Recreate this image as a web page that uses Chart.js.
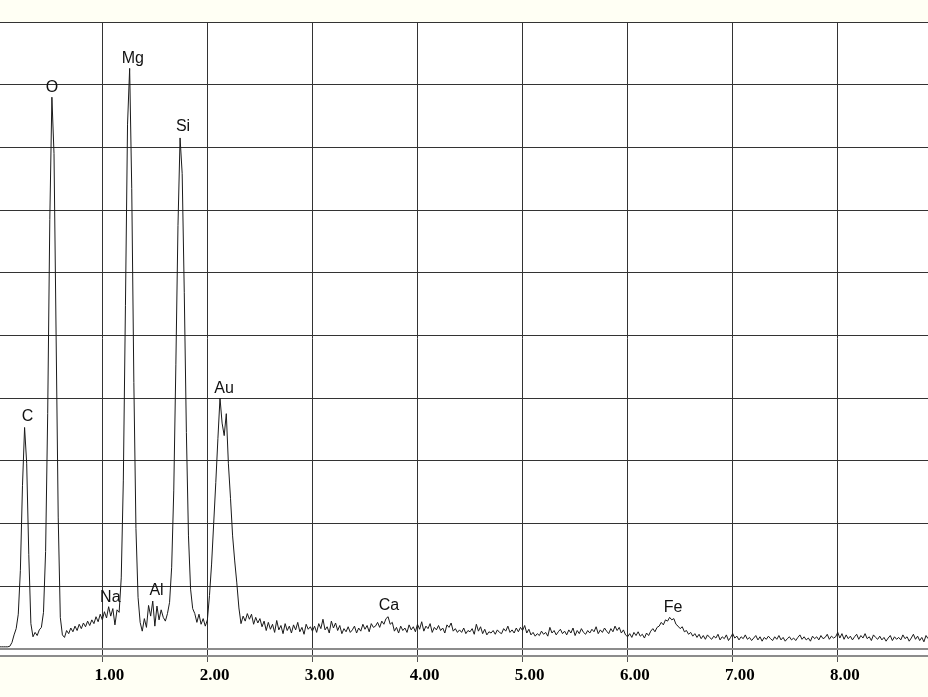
<!DOCTYPE html>
<html>
<head>
<meta charset="utf-8">
<title>EDS spectrum</title>
<script src="https://cdn.jsdelivr.net/npm/chart.js@4.4.0/dist/chart.umd.min.js"></script>
<style>
  html, body { margin: 0; padding: 0; background: #fffff4; }
  canvas { display: block; }
</style>
</head>
<body>
<canvas id="spectrum" width="928" height="697"></canvas>
<script>
// channel calibration (keV)
const channelStart = 0;
const channelWidth = 0.02;

// counts per channel, one row = 0.2 keV (relative scale, 100 = top of grid)
const counts = [
  0.3, 0.3, 0.3, 0.3, 0.3, 0.3, 0.4, 1.0, 2.2, 3.2,
  5.5, 12.5, 26.0, 35.3, 29.6, 15.0, 4.0, 1.9, 2.6, 2.1,
  3.0, 3.4, 5.8, 15.5, 37.5, 68.5, 88.0, 79.0, 50.0, 21.0,
  5.0, 2.2, 1.8, 2.9, 2.4, 3.3, 2.7, 3.6, 2.9, 3.9,
  3.2, 4.1, 3.5, 4.4, 3.7, 4.6, 4.0, 5.1, 4.3, 5.5,
  4.6, 5.9, 4.9, 6.7, 5.2, 6.4, 3.8, 6.2, 5.8, 11.3,
  26.9, 54.8, 83.7, 92.6, 73.4, 42.5, 19.2, 8.2, 4.2, 2.8,
  4.8, 3.4, 6.9, 5.2, 7.6, 3.6, 6.8, 4.6, 6.2, 5.0,
  4.4, 5.6, 7.4, 13.0, 25.3, 45.4, 67.5, 81.5, 75.8, 56.8,
  34.5, 18.0, 9.5, 6.4, 5.6, 4.2, 5.5, 3.9, 4.8, 3.6,
  4.6, 8.5, 13.5, 20.0, 26.5, 33.5, 40.0, 36.0, 34.0, 37.5,
  29.5, 24.0, 18.0, 14.0, 10.5, 6.5, 4.0, 5.2, 4.4, 5.6,
  4.7, 5.5, 3.9, 5.0, 4.1, 4.8, 3.5, 4.4, 2.9, 4.2,
  3.1, 3.9, 2.6, 4.5, 3.0, 3.7, 2.4, 4.0, 2.9, 3.6,
  2.5, 3.8, 3.0, 4.2, 2.7, 3.4, 2.3, 3.9, 3.1, 3.5,
  2.8, 3.6, 2.6, 4.0, 3.2, 4.7, 3.0, 3.5, 2.5, 4.4,
  3.3, 4.1, 2.9, 3.7, 2.4, 3.2, 2.7, 3.5, 2.6, 3.0,
  3.6, 2.5, 3.3, 2.8, 3.9, 3.1, 3.7, 2.7, 4.0, 3.4,
  3.6, 4.2, 3.4, 4.4, 3.9, 4.8, 5.1, 3.9, 4.2, 2.8,
  3.4, 2.5, 3.6, 2.9, 3.3, 2.6, 3.8, 3.0, 3.5, 2.7,
  3.9, 3.1, 4.3, 2.8, 3.6, 3.2, 4.0, 2.6, 3.4, 3.0,
  3.7, 2.9, 3.3, 2.5, 3.8, 3.4, 4.1, 2.8, 3.2, 2.6,
  3.0, 2.6, 3.3, 2.4, 2.9, 2.7, 3.2, 2.3, 3.9, 2.8,
  3.5, 2.4, 3.1, 2.2, 2.7, 2.5, 2.9, 2.3, 3.0, 2.6,
  2.4, 3.2, 2.8, 3.6, 2.6, 3.0, 2.5, 3.3, 2.7, 3.4,
  2.9, 3.7, 2.5, 3.1, 2.2, 2.6, 2.0, 2.4, 2.1, 2.8,
  2.3, 2.6, 2.0, 3.4, 2.5, 2.9, 2.2, 2.7, 3.1, 2.4,
  2.8, 2.2, 3.0, 2.5, 3.3, 2.1, 2.9, 2.4, 3.2, 2.6,
  2.3, 2.9, 2.5, 3.1, 2.7, 3.5, 2.4, 3.0, 2.6, 3.3,
  2.8, 2.4, 3.2, 2.7, 3.6, 2.9, 3.4, 2.5, 3.0, 2.2,
  1.9, 2.4, 1.8, 2.6, 2.1, 2.7, 2.0, 2.3, 1.7, 2.5,
  2.1, 2.8, 3.2, 2.7, 3.4, 3.6, 4.2, 3.8, 4.6, 4.4,
  5.0, 4.6, 4.8, 3.9, 3.6, 3.2, 3.5, 2.7, 2.9, 2.3,
  2.6, 2.0, 2.4, 1.8, 2.3, 1.6, 2.1, 1.5, 2.2, 1.8,
  1.5, 2.0, 1.7, 2.3, 1.4, 1.9, 1.6, 2.2, 1.3, 1.8,
  2.4, 1.7, 2.0, 1.4, 1.9, 1.6, 2.2, 1.5, 1.8, 1.3,
  1.7, 2.1, 1.4, 1.9, 1.2, 1.8, 1.5, 2.0, 1.6, 1.3,
  1.9, 1.5, 2.1, 1.4, 1.8, 1.2, 1.6, 1.9, 1.4, 1.7,
  1.3, 1.8, 2.2, 1.5, 1.9, 1.4, 1.7, 1.2, 2.0, 1.6,
  1.9, 1.4, 2.1, 1.6, 1.8, 2.3, 1.5, 2.0, 1.7, 1.9,
  2.6, 1.7, 2.4, 1.5, 2.2, 1.6, 2.0, 1.4, 1.9, 2.3,
  1.5, 2.1, 1.7, 2.4, 1.6, 1.9, 1.3, 2.2, 1.8, 1.5,
  2.0, 1.4, 1.8, 1.2, 1.7, 2.1, 1.3, 1.9, 1.5, 1.8,
  1.4, 2.2, 1.6, 1.9, 1.2, 1.7, 2.3, 1.5, 2.0, 1.3,
  1.8, 1.1, 2.1, 1.6, 1.9
];

const energyTicks = [1, 2, 3, 4, 5, 6, 7, 8];
const energyTickLabels = ['1.00', '2.00', '3.00', '4.00', '5.00', '6.00', '7.00', '8.00'];
const countGrid = [0, 10, 20, 30, 40, 50, 60, 70, 80, 90, 100];

// element labels: name, energy (keV), height of the label
const peakNames = ['C', 'O', 'Na', 'Mg', 'Al', 'Si', 'Au', 'Ca', 'Fe'];
const peakEnergies = [0.288, 0.521, 1.076, 1.290, 1.516, 1.768, 2.158, 3.729, 6.432];
const peakLabelLevels = [37.0, 89.5, 8.1, 94.2, 9.2, 83.3, 41.5, 6.8, 6.6];

const points = counts.map((c, i) => ({ x: channelStart + i * channelWidth, y: c }));

const backdrop = {
  id: 'backdrop',
  beforeDraw(chart) {
    const { ctx, chartArea: a } = chart;
    ctx.save();
    ctx.fillStyle = '#fffff4';
    ctx.fillRect(0, 0, chart.width, chart.height);
    ctx.fillStyle = '#ffffff';
    ctx.fillRect(a.left, a.top, a.right - a.left, a.bottom - a.top);
    ctx.restore();
  }
};

const peakLabels = {
  id: 'peakLabels',
  afterDatasetsDraw(chart) {
    const { ctx, scales } = chart;
    ctx.save();
    ctx.font = '16px "Liberation Sans", Arial, sans-serif';
    ctx.fillStyle = '#111';
    ctx.textAlign = 'center';
    ctx.textBaseline = 'middle';
    peakNames.forEach((name, i) => {
      ctx.fillText(name, scales.x.getPixelForValue(peakEnergies[i]), scales.y.getPixelForValue(peakLabelLevels[i]));
    });
    ctx.restore();
  }
};

new Chart(document.getElementById('spectrum'), {
  type: 'line',
  data: {
    datasets: [{
      data: points,
      borderColor: '#1a1a1a',
      borderWidth: 1,
      pointRadius: 0,
      tension: 0,
      fill: false
    }]
  },
  options: {
    responsive: false,
    animation: false,
    layout: { padding: { top: 22, left: 0, right: 0, bottom: 0 } },
    plugins: {
      legend: { display: false },
      tooltip: { enabled: false }
    },
    scales: {
      x: {
        type: 'linear',
        min: 0.026,
        max: 8.859,
        afterBuildTicks: (axis) => { axis.ticks = energyTicks.map((v) => ({ value: v })); },
        afterFit: (axis) => { axis.height = 41; },
        grid: { color: '#333', lineWidth: 1, tickLength: 6, tickColor: '#555' },
        border: { display: true, color: '#8c8c8c', width: 2 },
        ticks: {
          autoSkip: false,
          maxRotation: 0,
          align: 'end',
          labelOffset: 22,
          padding: 3,
          color: '#000',
          font: { family: '"Liberation Serif", "Times New Roman", serif', size: 17, weight: 'bold' },
          callback: (value, index) => energyTickLabels[index]
        }
      },
      y: {
        type: 'linear',
        min: -1.166,
        max: 100,
        afterBuildTicks: (axis) => { axis.ticks = countGrid.map((v) => ({ value: v })); },
        afterFit: (axis) => { axis.width = 0; },
        grid: {
          drawTicks: false,
          color: (c) => (c.tick && c.tick.value === 0 ? '#8c8c8c' : '#333'),
          lineWidth: (c) => (c.tick && c.tick.value === 0 ? 2 : 1)
        },
        border: { display: false },
        ticks: { display: false }
      }
    }
  },
  plugins: [backdrop, peakLabels]
});
</script>
</body>
</html>
